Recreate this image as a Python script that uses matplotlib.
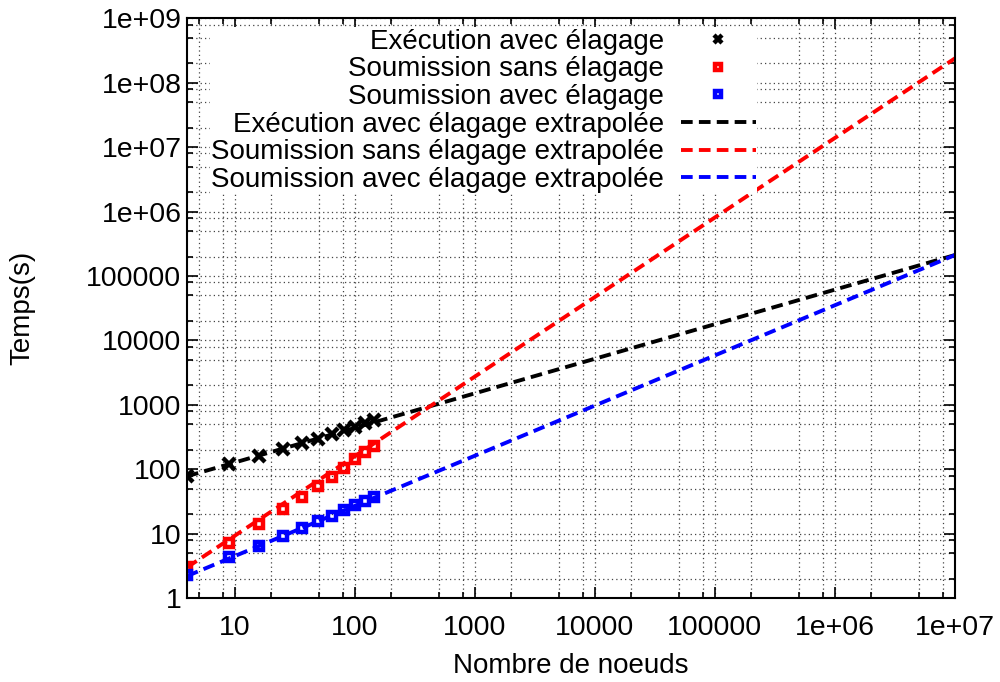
import numpy as np
import matplotlib
matplotlib.use('Agg')
import matplotlib.pyplot as plt
from matplotlib.ticker import LogLocator, FixedFormatter, NullFormatter

plt.rcParams['font.family'] = ['Liberation Sans', 'DejaVu Sans']

# Number of nodes (measured points)
nodes = [4, 9, 16, 25, 36, 49, 64, 81, 100, 121, 144]

# Measured times (s)
exec_prune = [78, 119, 160, 208, 253, 300, 355, 406, 457, 530, 580]
submit_noprune = [3.06, 7.2, 14.1, 24.1, 37.4, 55.4, 76.5, 105, 144, 183, 229]
submit_prune = [2.28, 4.38, 6.42, 9.18, 12.1, 15.7, 18.8, 23.3, 27.8, 32.1, 37.4]

# Extrapolated lines (end points)
extrap_nodes = [4, 1e7]
exec_prune_extrap = [78, 2.12e5]
submit_noprune_extrap = [3.0, 2.4e8]
submit_prune_extrap = [2.2, 2.12e5]

x_ticks = [10, 100, 1000, 10000, 100000, 1e6, 1e7]
x_labels = ['10', '100', '1000', '10000', '100000', '1e+06', '1e+07']
y_ticks = [1, 10, 100, 1000, 10000, 100000, 1e6, 1e7, 1e8, 1e9]
y_labels = ['1', '10', '100', '1000', '10000', '100000', '1e+06', '1e+07', '1e+08', '1e+09']

fig = plt.figure(figsize=(10, 6.82), dpi=100)
ax = fig.add_axes([0.187, 0.123, 0.768, 0.850])

ax.plot(nodes, exec_prune, 'x', color='black', ms=8, mew=3.2, label='Exécution avec élagage')
ax.plot(nodes, submit_noprune, 's', color='#ff0000', mfc='none', ms=5.6, mew=3.2,
        label='Soumission sans élagage')
ax.plot(nodes, submit_prune, 's', color='#0000ff', mfc='none', ms=5.6, mew=3.2,
        label='Soumission avec élagage')

dash = (3, 1.6)
ax.plot(extrap_nodes, exec_prune_extrap, color='black', lw=2.8, dashes=dash,
        label='Exécution avec élagage extrapolée')
ax.plot(extrap_nodes, submit_noprune_extrap, color='#ff0000', lw=2.8, dashes=dash,
        label='Soumission sans élagage extrapolée')
ax.plot(extrap_nodes, submit_prune_extrap, color='#0000ff', lw=2.8, dashes=dash,
        label='Soumission avec élagage extrapolée')

ax.set_xscale('log')
ax.set_yscale('log')
ax.set_xlim(4, 1e7)
ax.set_ylim(1, 1e9)

ax.set_xticks(x_ticks)
ax.xaxis.set_major_formatter(FixedFormatter(x_labels))
ax.set_yticks(y_ticks)
ax.yaxis.set_major_formatter(FixedFormatter(y_labels))
ax.xaxis.set_minor_locator(LogLocator(base=10, subs=(2, 5, 8), numticks=20))
ax.yaxis.set_minor_locator(LogLocator(base=10, subs=(2, 5, 8), numticks=20))
ax.xaxis.set_minor_formatter(NullFormatter())
ax.yaxis.set_minor_formatter(NullFormatter())

ax.tick_params(which='both', direction='in', top=True, right=True, width=1.2)
ax.tick_params(which='major', length=8, labelsize=20.5)
ax.tick_params(axis='y', which='major', pad=4)
ax.tick_params(axis='x', which='major', pad=12)
ax.tick_params(which='minor', length=4)
for s in ax.spines.values():
    s.set_linewidth(1.5)

ax.grid(True, which='both', linestyle=(0, (1, 2.5)), color='#444444', lw=0.9)
ax.set_axisbelow(True)

ax.set_xlabel('Nombre de noeuds', fontsize=20, labelpad=9)
ax.set_ylabel('Temps(s)', fontsize=20, labelpad=37)

leg = ax.legend(loc='upper right', bbox_to_anchor=(0.757, 0.96), bbox_transform=fig.transFigure,
                markerfirst=False, fontsize=20, frameon=True, fancybox=False,
                handlelength=2.7, labelspacing=0.06, borderpad=0.05, handletextpad=0.6,
                borderaxespad=0, markerscale=0.75)
leg.get_frame().set_facecolor('white')
leg.get_frame().set_edgecolor('none')
leg.get_frame().set_alpha(1)
leg._legend_box.align = 'right'

plt.savefig('out.png', dpi=100)
plt.close()
